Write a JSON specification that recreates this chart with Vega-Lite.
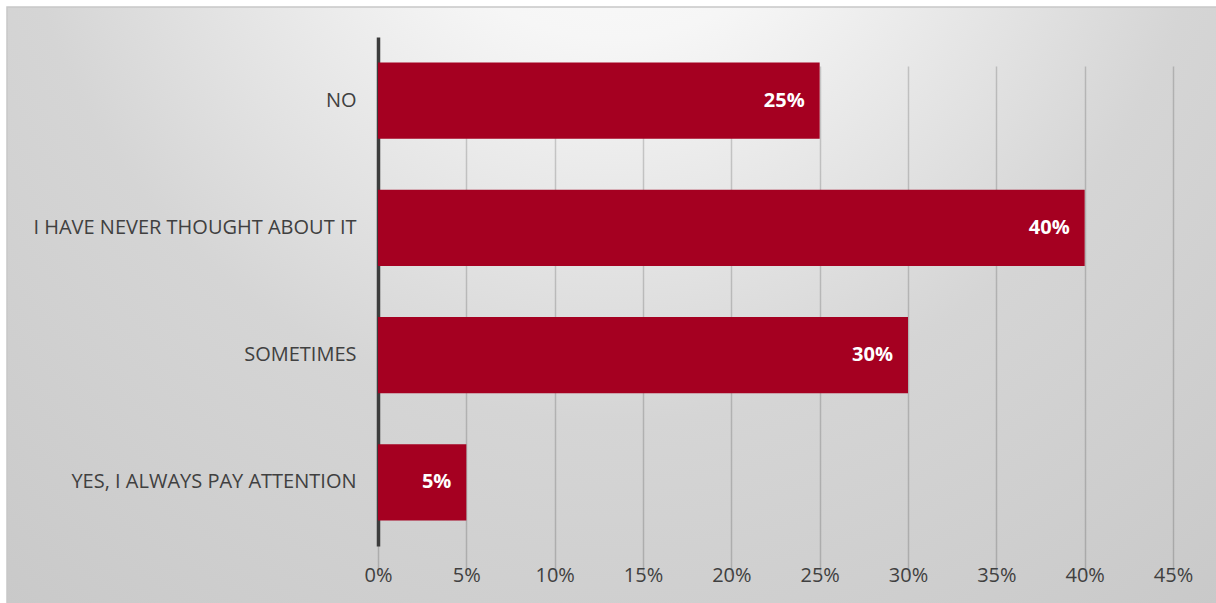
{
  "$schema": "https://vega.github.io/schema/vega-lite/v6.json",
  "width": 1212,
  "height": 598,
  "autosize": {"type": "none"},
  "padding": {"left": 7, "top": 7, "right": 0, "bottom": 0},
  "background": "#ffffff",
  "data": {
    "values": [
      {"answer": "NO", "share": 0.25},
      {"answer": "I HAVE NEVER THOUGHT ABOUT IT", "share": 0.40},
      {"answer": "SOMETIMES", "share": 0.30},
      {"answer": "YES, I ALWAYS PAY ATTENTION", "share": 0.05}
    ]
  },
  "encoding": {
    "y": {
      "field": "answer",
      "type": "nominal",
      "sort": null,
      "scale": {"range": [30, 539], "paddingInner": 0.4, "paddingOuter": 0.2},
      "axis": {
        "title": null,
        "orient": "left",
        "offset": -371,
        "domainColor": "#3c3c3c",
        "domainWidth": 3.5,
        "ticks": false,
        "labelPadding": 22,
        "labelFont": "Open Sans",
        "labelFontSize": 20,
        "labelColor": "#404040",
        "labelLimit": 400,
        "grid": false
      }
    },
    "x": {
      "field": "share",
      "type": "quantitative",
      "scale": {"domain": [0, 0.45], "range": [371, 1166], "nice": false},
      "axis": {
        "title": null,
        "values": [0, 0.05, 0.1, 0.15, 0.2, 0.25, 0.3, 0.35, 0.4, 0.45],
        "format": ".0%",
        "domain": false,
        "ticks": false,
        "offset": -59,
        "labelPadding": 19,
        "labelFlush": false,
        "labelFont": "Open Sans",
        "labelFontSize": 20,
        "labelColor": "#404040",
        "grid": true,
        "gridColor": "#000000",
        "gridOpacity": 0.17,
        "gridWidth": 1.5
      }
    }
  },
  "layer": [
    {"mark": {"type": "bar", "color": "#A50021"}},
    {
      "mark": {
        "type": "text",
        "align": "right",
        "baseline": "middle",
        "dx": -15,
        "font": "Open Sans",
        "fontWeight": "bold",
        "fontSize": 20,
        "color": "#ffffff"
      },
      "encoding": {"text": {"field": "share", "type": "quantitative", "format": ".0%"}}
    }
  ],
  "config": {
    "view": {
      "stroke": "#c8c8c8",
      "strokeWidth": 1.5,
      "fill": {
        "gradient": "radial",
        "x1": 0.5, "y1": 0.1, "r1": 0,
        "x2": 0.5, "y2": 0.1, "r2": 0.9,
        "stops": [
          {"offset": 0, "color": "#fdfdfd"},
          {"offset": 0.2, "color": "#f6f6f6"},
          {"offset": 0.55, "color": "#d5d5d5"},
          {"offset": 1, "color": "#c6c6c6"}
        ]
      }
    }
  }
}
